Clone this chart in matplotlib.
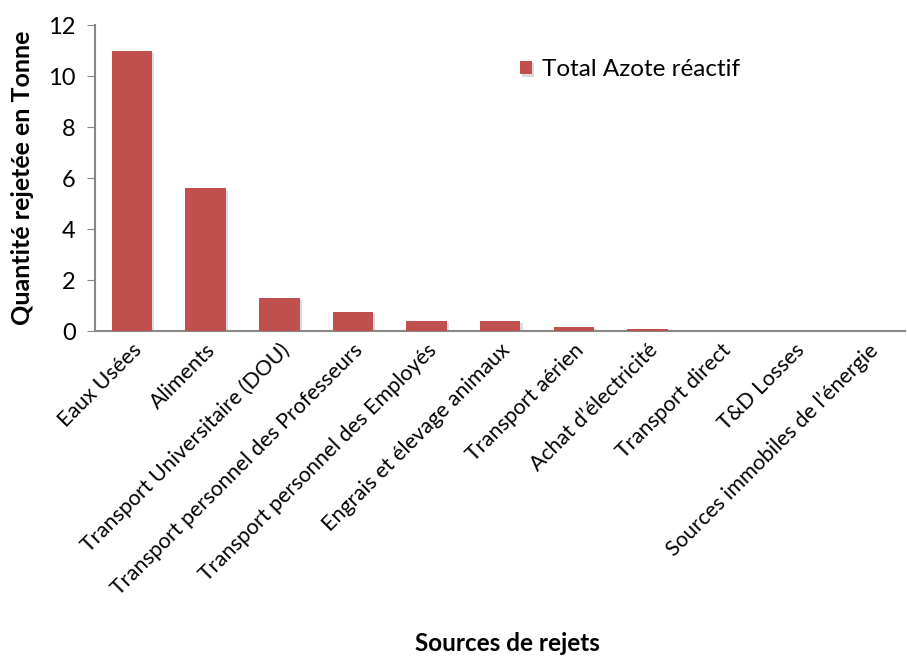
import matplotlib
matplotlib.use("Agg")
import matplotlib.pyplot as plt
import matplotlib.patheffects as pe

plt.rcParams['font.family'] = ['Lato', 'DejaVu Sans']

sources = [
    "Eaux Usées",
    "Aliments",
    "Transport Universitaire (DOU)",
    "Transport personnel des Professeurs",
    "Transport personnel des Employés",
    "Engrais et élevage animaux",
    "Transport aérien",
    "Achat d’électricité",
    "Transport direct",
    "T&D Losses",
    "Sources immobiles de l’énergie",
]
azote = [11.0, 5.6, 1.3, 0.78, 0.4, 0.4, 0.17, 0.11, 0.02, 0.01, 0.005]

fig = plt.figure(figsize=(9.07, 6.59), dpi=100)
ax = fig.add_axes([0.105, 0.497, 0.893, 0.465])

bars = ax.bar(range(len(sources)), azote, width=0.55, color="#c0504d",
              label="Total Azote réactif", zorder=3)
for b in bars:
    b.set_path_effects([pe.SimplePatchShadow(offset=(1.5, -1.5), shadow_rgbFace="#999999", alpha=0.35),
                        pe.Normal()])

ax.set_ylim(0, 12)
ax.set_xlim(-0.5, len(sources) - 0.5)
ax.set_yticks(range(0, 13, 2))
ax.tick_params(axis='y', labelsize=17, length=6, color="#888888", pad=8)
ax.tick_params(axis='x', length=0, labelsize=15.5, pad=6)
ax.set_xticks(range(len(sources)))
ax.set_xticklabels(sources, rotation=45, ha='right', rotation_mode='anchor')

for s in ['top', 'right']:
    ax.spines[s].set_visible(False)
for s in ['left', 'bottom']:
    ax.spines[s].set_color("#888888")
    ax.spines[s].set_linewidth(1.5)

ax.set_ylabel("Quantité rejetée en Tonne", fontsize=18, fontweight='bold', labelpad=10)
fig.text(0.56, 0.012, "Sources de rejets", fontsize=17.5, fontweight='bold', ha='center')

ax.legend(loc='upper left', bbox_to_anchor=(0.497, 0.96), frameon=False, fontsize=17.5,
          handlelength=0.5, handleheight=0.5, handletextpad=0.4)

fig.savefig("out.png", dpi=100)
